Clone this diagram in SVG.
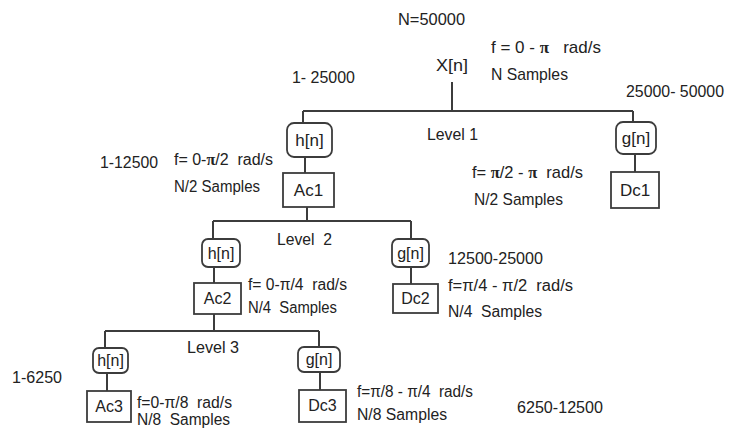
<svg xmlns="http://www.w3.org/2000/svg" width="729" height="429" viewBox="0 0 729 429">
<style>
text{font-family:"Liberation Sans",Arial,sans-serif;fill:#222;font-size:17px;white-space:pre}
.s{font-size:16px}
.c{text-anchor:middle}
.pb{font-family:"Liberation Serif","Times New Roman",serif;font-weight:bold}
.ln{stroke:#3c3c3c;stroke-width:2;fill:none}
.flt{fill:#fff;stroke:#3c3c3c;stroke-width:1.8}
.box{fill:#fff;stroke:#3c3c3c;stroke-width:1.8}
</style>
<rect width="729" height="429" fill="#fff"/>
<g id="connectors">
<path class="ln" d="M452 82V111M303 111H633M303 111V123M633 111V122M305 157V173M635 154V172M307 207V221"/>
<path class="ln" d="M213 221H411M213 221V239M411 221V239M214 267V283M411 267V284M214 314V331"/>
<path class="ln" d="M105 331H319M105 331V348M319 331V347M107 373V391M320 372V390"/>
</g>
<g id="root">
<text x="398" y="25" textLength="67" lengthAdjust="spacingAndGlyphs">N=50000</text>
<text x="436" y="71" textLength="32" lengthAdjust="spacingAndGlyphs">X[n]</text>
<text x="491" y="53" textLength="110" lengthAdjust="spacingAndGlyphs">f = 0 - <tspan class="pb">π</tspan>   rad/s</text>
<text x="491" y="80" textLength="77" lengthAdjust="spacingAndGlyphs">N Samples</text>
</g>
<g id="h1">
<rect class="flt" x="287" y="123" width="45" height="34" rx="7"/>
<text class="c" x="309.5" y="146">h[n]</text>
<text x="292" y="83" textLength="63" lengthAdjust="spacingAndGlyphs">1- 25000</text>
</g>
<g id="ac1">
<rect class="box" x="283" y="173" width="51" height="34"/>
<text class="c" x="308.5" y="196">Ac1</text>
<text x="100" y="168" textLength="58" lengthAdjust="spacingAndGlyphs">1-12500</text>
<text class="s" x="174" y="165" textLength="99" lengthAdjust="spacingAndGlyphs">f= 0-<tspan class="pb">π</tspan>/2  rad/s</text>
<text class="s" x="174" y="192" textLength="86" lengthAdjust="spacingAndGlyphs">N/2 Samples</text>
</g>
<g id="g1">
<rect class="flt" x="616" y="122" width="40" height="32" rx="7"/>
<text class="c" x="636" y="144">g[n]</text>
<text class="s" x="626" y="97" textLength="98" lengthAdjust="spacingAndGlyphs">25000- 50000</text>
</g>
<g id="dc1">
<rect class="box" x="611" y="172" width="48" height="36"/>
<text class="c" x="635" y="196">Dc1</text>
<text x="472" y="178" textLength="111" lengthAdjust="spacingAndGlyphs">f= <tspan class="pb">π</tspan>/2 - <tspan class="pb">π</tspan>  rad/s</text>
<text x="474" y="205" textLength="89" lengthAdjust="spacingAndGlyphs">N/2 Samples</text>
</g>
<text x="427" y="140" textLength="51" lengthAdjust="spacingAndGlyphs">Level 1</text>
<g id="h2">
<rect class="flt" x="202" y="239" width="38" height="28" rx="6"/>
<text class="c s" x="221" y="259">h[n]</text>
</g>
<g id="ac2">
<rect class="box" x="194" y="283" width="47" height="31"/>
<text class="c s" x="217.5" y="304">Ac2</text>
<text class="s" x="248" y="290" textLength="99" lengthAdjust="spacingAndGlyphs">f= 0-π/4  rad/s</text>
<text class="s" x="248" y="313" textLength="89" lengthAdjust="spacingAndGlyphs">N/4  Samples</text>
</g>
<g id="g2">
<rect class="flt" x="392" y="239" width="37" height="28" rx="6"/>
<text class="c s" x="410.5" y="259">g[n]</text>
<text x="448" y="264" textLength="95" lengthAdjust="spacingAndGlyphs">12500-25000</text>
</g>
<g id="dc2">
<rect class="box" x="393" y="284" width="45" height="29"/>
<text class="c s" x="415.5" y="304">Dc2</text>
<text class="s" x="448" y="291" textLength="125" lengthAdjust="spacingAndGlyphs">f=π/4 - π/2  rad/s</text>
<text class="s" x="448" y="317" textLength="94" lengthAdjust="spacingAndGlyphs">N/4  Samples</text>
</g>
<text x="277" y="245" textLength="55" lengthAdjust="spacingAndGlyphs">Level  2</text>
<g id="h3">
<rect class="flt" x="93" y="348" width="35" height="25" rx="6"/>
<text class="c s" x="110.5" y="366">h[n]</text>
<text class="s" x="12" y="383" textLength="50" lengthAdjust="spacingAndGlyphs">1-6250</text>
</g>
<g id="ac3">
<rect class="box" x="87" y="391" width="44" height="31"/>
<text class="c s" x="109" y="412">Ac3</text>
<text class="s" x="137" y="408" textLength="95" lengthAdjust="spacingAndGlyphs">f=0-π/8  rad/s</text>
<text class="s" x="137" y="425" textLength="93" lengthAdjust="spacingAndGlyphs">N/8  Samples</text>
</g>
<g id="g3">
<rect class="flt" x="298" y="347" width="42" height="25" rx="6"/>
<text class="c s" x="319" y="365">g[n]</text>
</g>
<g id="dc3">
<rect class="box" x="299" y="390" width="47" height="32"/>
<text class="c s" x="322.5" y="411">Dc3</text>
<text class="s" x="357" y="397" textLength="116" lengthAdjust="spacingAndGlyphs">f=π/8 - π/4  rad/s</text>
<text class="s" x="357" y="420" textLength="90" lengthAdjust="spacingAndGlyphs">N/8 Samples</text>
<text x="517" y="413" textLength="86" lengthAdjust="spacingAndGlyphs">6250-12500</text>
</g>
<text x="187" y="353" textLength="52" lengthAdjust="spacingAndGlyphs">Level 3</text>
</svg>
